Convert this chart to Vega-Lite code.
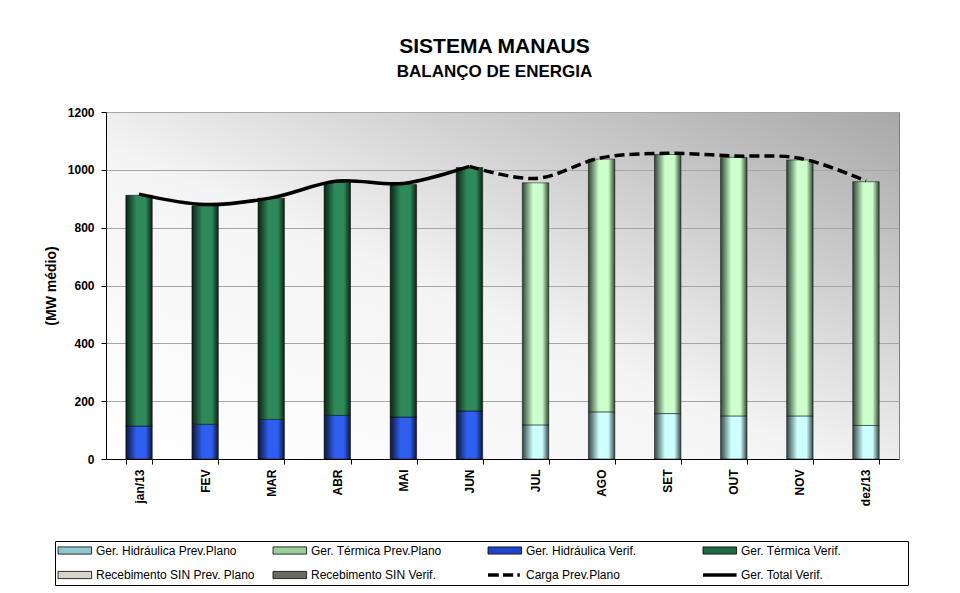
{
  "$schema": "https://vega.github.io/schema/vega-lite/v6.json",
  "width": 793,
  "height": 347,
  "padding": {"left": 44, "top": 36, "right": 10, "bottom": 5},
  "background": "white",
  "title": {
    "text": "SISTEMA MANAUS",
    "subtitle": "BALANÇO DE ENERGIA",
    "font": "Liberation Sans",
    "fontSize": 21,
    "fontWeight": "bold",
    "color": "black",
    "subtitleFont": "Liberation Sans",
    "subtitleFontSize": 17,
    "subtitleFontWeight": "bold",
    "subtitleColor": "black",
    "subtitlePadding": 7,
    "anchor": "middle",
    "dx": -8,
    "offset": 26
  },
  "view": {
    "stroke": "#808080",
    "strokeWidth": 1,
    "fill": {
      "gradient": "linear",
      "x1": 0, "y1": 1, "x2": 1, "y2": 0,
      "stops": [
        {"offset": 0, "color": "#ffffff"},
        {"offset": 0.45, "color": "#f4f4f4"},
        {"offset": 1, "color": "#a8a8a8"}
      ]
    }
  },
  "data": {
    "values": [
      {"mes": "jan/13", "tipo": "Verif", "hidraulica": 114, "topo": 912, "total": 916, "carga": null},
      {"mes": "FEV", "tipo": "Verif", "hidraulica": 120, "topo": 876, "total": 880, "carga": null},
      {"mes": "MAR", "tipo": "Verif", "hidraulica": 137, "topo": 902, "total": 903, "carga": null},
      {"mes": "ABR", "tipo": "Verif", "hidraulica": 151, "topo": 956, "total": 961, "carga": null},
      {"mes": "MAI", "tipo": "Verif", "hidraulica": 145, "topo": 949, "total": 953, "carga": null},
      {"mes": "JUN", "tipo": "Verif", "hidraulica": 166, "topo": 1008, "total": 1012, "carga": 1012},
      {"mes": "JUL", "tipo": "Prev", "hidraulica": 118, "topo": 955, "total": null, "carga": 970},
      {"mes": "AGO", "tipo": "Prev", "hidraulica": 163, "topo": 1037, "total": null, "carga": 1042},
      {"mes": "SET", "tipo": "Prev", "hidraulica": 157, "topo": 1053, "total": null, "carga": 1057},
      {"mes": "OUT", "tipo": "Prev", "hidraulica": 149, "topo": 1043, "total": null, "carga": 1048},
      {"mes": "NOV", "tipo": "Prev", "hidraulica": 149, "topo": 1034, "total": null, "carga": 1040},
      {"mes": "dez/13", "tipo": "Prev", "hidraulica": 116, "topo": 959, "total": null, "carga": 962}
    ]
  },
  "encoding": {
    "x": {
      "field": "mes",
      "type": "ordinal",
      "sort": null,
      "scale": {
        "domain": ["jan/13", "FEV", "MAR", "ABR", "MAI", "JUN", "JUL", "AGO", "SET", "OUT", "NOV", "dez/13"],
        "paddingInner": 0.6,
        "paddingOuter": 0.3
      },
      "axis": {
        "title": null,
        "labelAngle": -90,
        "labelFont": "Liberation Sans",
        "labelFontSize": 12,
        "labelFontWeight": "bold",
        "labelColor": "black",
        "labelPadding": 5,
        "domainColor": "black",
        "domainWidth": 1,
        "tickColor": "black",
        "tickSize": 5,
        "tickBand": "extent",
        "grid": false
      }
    }
  },
  "layer": [
    {
      "transform": [{"filter": "datum.tipo === 'Verif'"}],
      "mark": {
        "type": "bar",
        "stroke": "black",
        "strokeWidth": 0.5,
        "fill": {
          "gradient": "linear", "x1": 0, "y1": 0, "x2": 1, "y2": 0,
          "stops": [
            {"offset": 0, "color": "#0d1533"},
            {"offset": 0.4, "color": "#2f5ff0"},
            {"offset": 0.75, "color": "#2f5ff0"},
            {"offset": 1, "color": "#0d1533"}
          ]
        }
      },
      "encoding": {
        "y": {
          "field": "hidraulica",
          "type": "quantitative",
          "scale": {"domain": [0, 1200], "nice": false},
          "axis": {
            "title": "(MW médio)",
            "titleFont": "Liberation Sans",
            "titleFontSize": 14,
            "titleFontWeight": "bold",
            "titleColor": "black",
            "titlePadding": 9,
            "values": [0, 200, 400, 600, 800, 1000, 1200],
            "format": "d",
            "labelFont": "Liberation Sans",
            "labelFontSize": 12,
            "labelFontWeight": "bold",
            "labelColor": "black",
            "labelPadding": 7,
            "domainColor": "black",
            "tickColor": "black",
            "tickSize": 5,
            "gridColor": "#a6a6a6",
            "gridWidth": 1
          }
        }
      }
    },
    {
      "transform": [{"filter": "datum.tipo === 'Verif'"}],
      "mark": {
        "type": "bar",
        "stroke": "black",
        "strokeWidth": 0.5,
        "fill": {
          "gradient": "linear", "x1": 0, "y1": 0, "x2": 1, "y2": 0,
          "stops": [
            {"offset": 0, "color": "#0b2216"},
            {"offset": 0.4, "color": "#2e8a5a"},
            {"offset": 0.75, "color": "#2e8a5a"},
            {"offset": 1, "color": "#0b2216"}
          ]
        }
      },
      "encoding": {
        "y": {"field": "hidraulica", "type": "quantitative"},
        "y2": {"field": "topo"}
      }
    },
    {
      "transform": [{"filter": "datum.tipo === 'Prev'"}],
      "mark": {
        "type": "bar",
        "stroke": "black",
        "strokeWidth": 0.5,
        "fill": {
          "gradient": "linear", "x1": 0, "y1": 0, "x2": 1, "y2": 0,
          "stops": [
            {"offset": 0, "color": "#344444"},
            {"offset": 0.4, "color": "#ccffff"},
            {"offset": 0.75, "color": "#ccffff"},
            {"offset": 1, "color": "#344444"}
          ]
        }
      },
      "encoding": {
        "y": {"field": "hidraulica", "type": "quantitative"}
      }
    },
    {
      "transform": [{"filter": "datum.tipo === 'Prev'"}],
      "mark": {
        "type": "bar",
        "stroke": "black",
        "strokeWidth": 0.5,
        "fill": {
          "gradient": "linear", "x1": 0, "y1": 0, "x2": 1, "y2": 0,
          "stops": [
            {"offset": 0, "color": "#2f4434"},
            {"offset": 0.4, "color": "#ccffcc"},
            {"offset": 0.75, "color": "#ccffcc"},
            {"offset": 1, "color": "#2f4434"}
          ]
        }
      },
      "encoding": {
        "y": {"field": "hidraulica", "type": "quantitative"},
        "y2": {"field": "topo"}
      }
    },
    {
      "transform": [{"filter": "datum.total != null"}],
      "mark": {"type": "line", "color": "black", "strokeWidth": 3.5, "interpolate": "catmull-rom"},
      "encoding": {
        "y": {"field": "total", "type": "quantitative"}
      }
    },
    {
      "transform": [{"filter": "datum.carga != null"}],
      "mark": {"type": "line", "color": "black", "strokeWidth": 3.5, "strokeDash": [10, 5], "interpolate": "catmull-rom"},
      "encoding": {
        "y": {"field": "carga", "type": "quantitative"}
      }
    },
    {
      "transform": [{"filter": "false"}],
      "mark": {"type": "point", "filled": true, "opacity": 1},
      "encoding": {
        "y": {"field": "total", "type": "quantitative"},
        "color": {
          "field": "serie",
          "type": "nominal",
          "scale": {
            "domain": ["Ger. Hidráulica Prev.Plano", "Ger. Térmica Prev.Plano", "Ger. Hidráulica Verif.", "Ger. Térmica Verif.", "Recebimento SIN Prev. Plano", "Recebimento SIN Verif.", "Carga Prev.Plano", "Ger. Total Verif."],
            "range": ["#8fc8ca", "#9ad09a", "#2244cc", "#1f6b44", "#d8d6c8", "#6a6a60", "#000000", "#000000"]
          },
          "legend": {
            "title": null,
            "orient": "none",
            "legendX": -51,
            "legendY": 429,
            "direction": "horizontal",
            "columns": 4,
            "gridAlign": "all",
            "columnPadding": 6,
            "rowPadding": 11,
            "padding": 3,
            "strokeColor": "black",
            "fillColor": "white",
            "symbolSize": 144,
            "symbolStrokeColor": "black",
            "symbolOpacity": 1,
            "labelOffset": 26,
            "labelFont": "Liberation Sans",
            "labelFontSize": 12,
            "labelColor": "black",
            "labelLimit": 300,
            "labelExpr": "datum.label == 'Ger. Térmica Verif.' ? datum.label + '\u2800\u2800\u2800\u2800\u2800\u2800\u2800' : datum.label",
            "encode": {
              "symbols": {
                "update": {
                  "strokeWidth": {"signal": "indexof(['Carga Prev.Plano', 'Ger. Total Verif.'], datum.value) >= 0 ? 3.5 : 0.8"},
                  "opacity": {"value": 1}
                }
              }
            }
          }
        },
        "shape": {
          "field": "serie",
          "type": "nominal",
          "scale": {
            "domain": ["Ger. Hidráulica Prev.Plano", "Ger. Térmica Prev.Plano", "Ger. Hidráulica Verif.", "Ger. Térmica Verif.", "Recebimento SIN Prev. Plano", "Recebimento SIN Verif.", "Carga Prev.Plano", "Ger. Total Verif."],
            "range": ["M-1,-0.6H4.6V0.6H-1Z", "M-1,-0.6H4.6V0.6H-1Z", "M-1,-0.6H4.6V0.6H-1Z", "M-1,-0.6H4.6V0.6H-1Z", "M-1,-0.6H4.6V0.6H-1Z", "M-1,-0.6H4.6V0.6H-1Z", "M-1,0H0.8M1.5,0H3.2M3.9,0H4.3", "M-1,0H4.6"]
          },
          "legend": null
        }
      }
    }
  ],
  "config": {
    "font": "Liberation Sans"
  }
}
